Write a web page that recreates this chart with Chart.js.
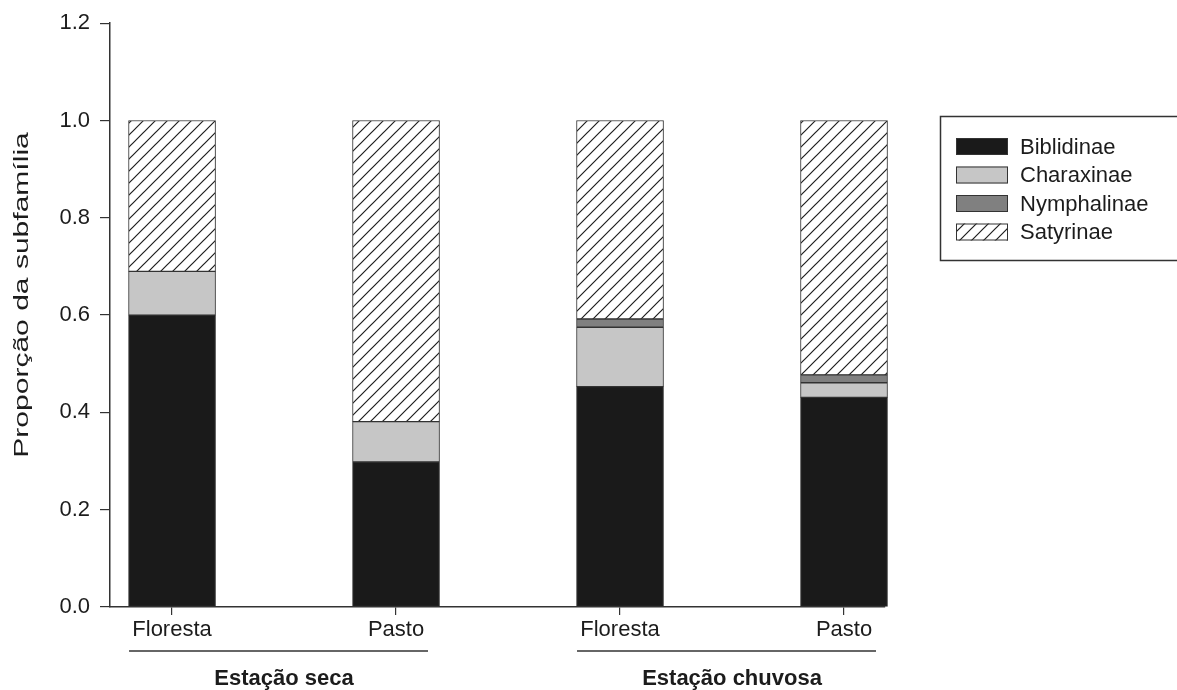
<!DOCTYPE html>
<html>
<head>
<meta charset="utf-8">
<script src="https://cdn.jsdelivr.net/npm/chart.js@4/dist/chart.umd.min.js"></script>
<style>
    html, body { margin: 0; padding: 0; background: #fff; }
    #wrap { width: 1177px; height: 690px; position: relative; }
</style>
</head>
<body>
<div id="wrap"><canvas id="chart"></canvas></div>
<script>
const categories = ['Floresta', 'Pasto', 'Floresta', 'Pasto'];
const seasons = ['Estação seca', 'Estação chuvosa'];
const seasonGroups = [[0, 1], [2, 3]];
const subfamilies = ['Biblidinae', 'Charaxinae', 'Nymphalinae', 'Satyrinae'];

const biblidinae = [0.600, 0.298, 0.453, 0.431];
const charaxinae = [0.090, 0.083, 0.122, 0.030];
const nymphalinae = [0.000, 0.000, 0.017, 0.016];
const satyrinae = [0.310, 0.619, 0.408, 0.523];

const yTicks = [0, 0.2, 0.4, 0.6, 0.8, 1.0, 1.2];
const yTitle = 'Proporção da subfamília';

const FONT = "'Liberation Sans', Arial, sans-serif";
const INK = '#1c1c1c';
const LINE = '#333';

const canvas = document.getElementById('chart');
const ctx = canvas.getContext('2d');

function makeHatch(size) {
    const c = document.createElement('canvas');
    c.width = size;
    c.height = size;
    const g = c.getContext('2d');
    g.fillStyle = '#fff';
    g.fillRect(0, 0, size, size);
    g.strokeStyle = '#1e1e1e';
    g.lineWidth = 1.2;
    g.beginPath();
    g.moveTo(-2, size + 2); g.lineTo(size + 2, -2);
    g.moveTo(-2, 2); g.lineTo(2, -2);
    g.moveTo(size - 2, size + 2); g.lineTo(size + 2, size - 2);
    g.stroke();
    return ctx.createPattern(c, 'repeat');
}

const hatch = makeHatch(12);
const fills = ['#1a1a1a', '#c6c6c6', '#808080', hatch];
const seriesValues = [biblidinae, charaxinae, nymphalinae, satyrinae];

const toPoints = arr => arr.map((v, i) => ({ x: i + 1, y: v }));

const datasets = subfamilies.map((name, k) => ({
    label: name,
    data: toPoints(seriesValues[k]),
    backgroundColor: fills[k],
    borderColor: LINE,
    borderWidth: 1,
    borderSkipped: false,
    barThickness: 87,
    clip: false
}));

// y title, season brackets, legend box
const extrasPlugin = {
    id: 'extras',
    afterDraw(chart) {
        const c = chart.ctx;
        const xs = chart.scales.x;
        c.save();

        // y title (stretched like the original figure)
        c.save();
        c.translate(28, 295);
        c.rotate(-Math.PI / 2);
        c.scale(1.43, 1);
        c.font = `21px ${FONT}`;
        c.fillStyle = INK;
        c.textAlign = 'center';
        c.textBaseline = 'alphabetic';
        c.fillText(yTitle, 0, 0);
        c.restore();

        // season underline + bold labels
        seasonGroups.forEach((grp, g) => {
            const a = xs.getPixelForValue(grp[0] + 1);
            const b = xs.getPixelForValue(grp[1] + 1);
            c.strokeStyle = LINE;
            c.lineWidth = 1.5;
            c.beginPath();
            c.moveTo(a - 43, 651);
            c.lineTo(b + 32, 651);
            c.stroke();
            c.fillStyle = INK;
            c.font = `bold 22px ${FONT}`;
            c.textAlign = 'center';
            c.textBaseline = 'middle';
            c.fillText(seasons[g], (a + b) / 2, 679);
        });

        // legend
        c.strokeStyle = LINE;
        c.lineWidth = 1.5;
        c.beginPath();
        c.moveTo(1180, 116.5);
        c.lineTo(940.5, 116.5);
        c.lineTo(940.5, 260.5);
        c.lineTo(1180, 260.5);
        c.stroke();

        c.font = `22px ${FONT}`;
        c.textAlign = 'left';
        c.textBaseline = 'middle';
        chart.data.datasets.forEach((ds, i) => {
            const cy = 146.5 + i * 28.5;
            c.fillStyle = ds.backgroundColor;
            c.fillRect(956, cy - 8.5, 52, 17);
            c.strokeStyle = LINE;
            c.lineWidth = 1;
            c.strokeRect(956.5, cy - 8, 51, 16);
            c.fillStyle = INK;
            c.fillText(ds.label, 1020, cy + 1);
        });
        c.restore();
    }
};

new Chart(ctx, {
    type: 'bar',
    data: { datasets },
    options: {
        responsive: true,
        maintainAspectRatio: false,
        animation: false,
        layout: { padding: { left: 0, top: 22, right: 292, bottom: 0 } },
        plugins: {
            legend: { display: false },
            tooltip: { enabled: false }
        },
        scales: {
            x: {
                type: 'linear',
                stacked: true,
                offset: false,
                min: 0.723,
                max: 4.183,
                afterBuildTicks: scale => {
                    scale.ticks = categories.map((_, i) => ({ value: i + 1 }));
                },
                afterFit: scale => { scale.height = 83; },
                ticks: {
                    color: INK,
                    font: { family: FONT, size: 22 },
                    padding: 2,
                    maxRotation: 0,
                    autoSkip: false,
                    callback: v => categories[Math.round(v) - 1]
                },
                grid: { offset: false, drawOnChartArea: false, drawTicks: true, tickLength: 8, color: LINE, lineWidth: 1.2 },
                border: { display: true, color: LINE, width: 1.5 }
            },
            y: {
                stacked: true,
                min: 0,
                max: 1.2,
                afterBuildTicks: scale => {
                    scale.ticks = yTicks.map(v => ({ value: v }));
                },
                afterFit: scale => { scale.width = 110; },
                ticks: {
                    color: INK,
                    font: { family: FONT, size: 22 },
                    padding: 10,
                    callback: v => Number(v).toFixed(1)
                },
                grid: { drawOnChartArea: false, drawTicks: true, tickLength: 10, color: LINE, lineWidth: 1.2 },
                border: { display: true, color: LINE, width: 1.5 }
            }
        }
    },
    plugins: [extrasPlugin]
});
</script>
</body>
</html>
